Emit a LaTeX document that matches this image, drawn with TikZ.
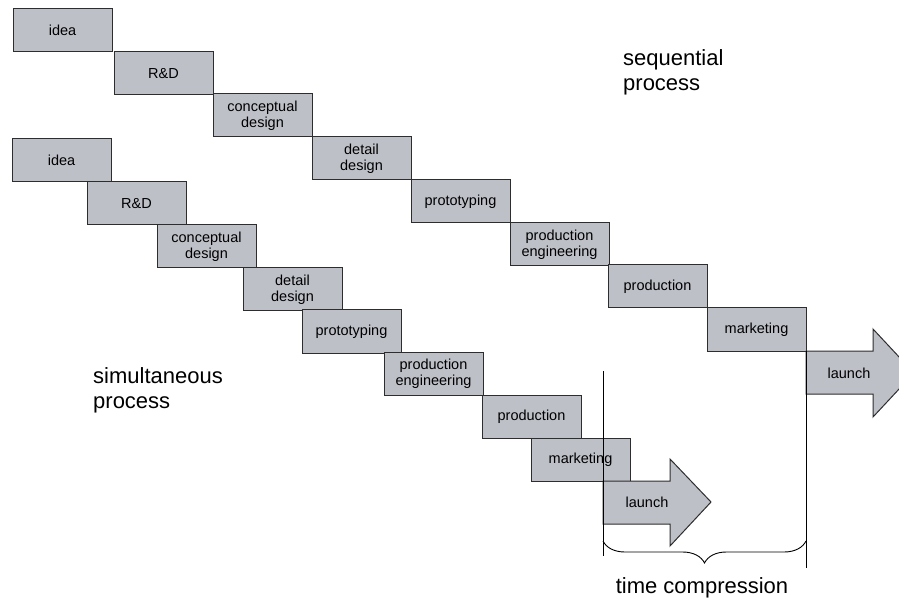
\documentclass[tikz,border=0pt]{standalone}
\usepackage{fontspec}
\setmainfont{Liberation Sans}
\usepackage{tikz}
\usetikzlibrary{decorations.pathreplacing}
\definecolor{stagegray}{RGB}{190,192,200}
\definecolor{edgegray}{RGB}{45,45,45}

\begin{document}
\begin{tikzpicture}[x=1pt,y=-1pt,
  stage/.style={draw=edgegray,line width=1pt,fill=stagegray,minimum width=99pt,
    minimum height=43pt,inner sep=0pt,align=center,
    font=\fontsize{14.5}{16}\selectfont},
  launchtxt/.style={inner sep=0pt,font=\fontsize{14.5}{16}\selectfont},
  bigtxt/.style={inner sep=0pt,align=left,font=\fontsize{22}{25}\selectfont}]
 \clip (0,0) rectangle (899,601);
 % sequential process
 \node[stage] (seqidea) at (62.5,30.5) {idea};
 \node[stage] (seqrd) at (163.5,73.5) {R\&D};
 \node[stage] (seqconcept) at (262.5,115.5) {conceptual\\design};
 \node[stage] (seqdetail) at (361.5,158.5) {detail\\design};
 \node[stage] (seqproto) at (460.5,201.5) {prototyping};
 \node[stage] (seqprodeng) at (559.5,244.5) {production\\engineering};
 \node[stage] (seqprod) at (657.5,286.5) {production};
 \node[stage] (seqmarket) at (756.5,329.5) {marketing};
 \draw[draw=edgegray,line width=1pt,fill=stagegray]
  (806,351) -- (873,351) -- (873,329) -- (914,373) -- (873,417) -- (873,394) -- (806,394) -- cycle;
 \node[launchtxt] (seqlaunch) at (849,373) {launch};
 % simultaneous process
 \node[stage] (simidea) at (61.5,160.5) {idea};
 \node[stage] (simrd) at (136.5,203.5) {R\&D};
 \node[stage] (simconcept) at (206.5,246.5) {conceptual\\design};
 \node[stage] (simdetail) at (292.5,289.5) {detail\\design};
 \node[stage] (simproto) at (351.5,331.5) {prototyping};
 \node[stage] (simprodeng) at (433.5,373.5) {production\\engineering};
 \node[stage] (simprod) at (531.5,416.5) {production};
 \node[stage] (simmarket) at (580.5,459.5) {marketing};
 \draw[draw=edgegray,line width=1pt,fill=stagegray]
  (603,481) -- (670,481) -- (670,459) -- (711,502) -- (670,546) -- (670,524) -- (603,524) -- cycle;
 \node[launchtxt] (simlaunch) at (647,502) {launch};
 % time compression
 \draw[line width=0.9pt] (603,371) -- (603,556);
 \draw[line width=0.9pt] (806,351) -- (806,568);
 \draw[line width=0.9pt,decorate,decoration={brace,mirror,amplitude=22pt}] (603,541) -- (806,541);
 \node[bigtxt] (seqlabel) at (623,72) [anchor=west] {sequential\\process};
 \node[bigtxt] (simlabel) at (93,390) [anchor=west] {simultaneous\\process};
 \node[bigtxt] (timelabel) at (702,588) {time compression};
\end{tikzpicture}
\end{document}
